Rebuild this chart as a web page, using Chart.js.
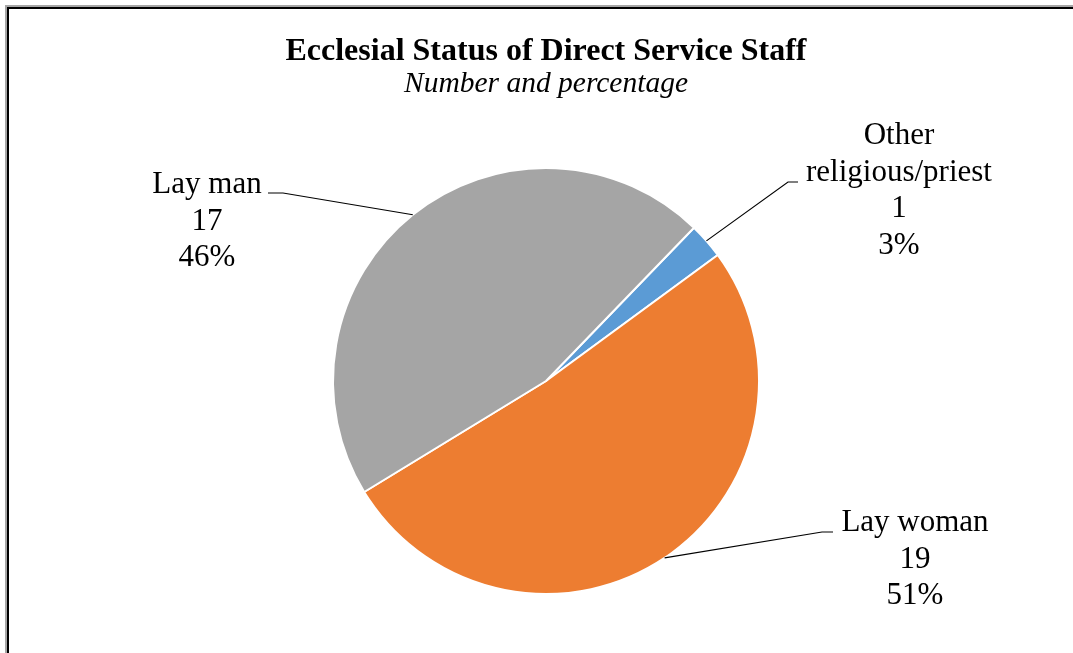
<!DOCTYPE html>
<html>
<head>
<meta charset="utf-8">
<script src="https://cdn.jsdelivr.net/npm/chart.js@4.4.1/dist/chart.umd.min.js"></script>
<style>
    html, body { margin: 0; padding: 0; background: #fff; overflow: hidden; }
    #wrap { position: relative; width: 1073px; height: 653px; }
    #frameOuter { position: absolute; left: 5px; top: 5px; width: 2000px; height: 2000px;
        border-left: 2px solid #a6a6a6; border-top: 2px solid #a6a6a6; }
    #frameInner { position: absolute; left: 0; top: 0; width: 2000px; height: 2000px;
        border-left: 2px solid #000; border-top: 2px solid #000; }
    canvas { position: absolute; left: 0; top: 0; }
</style>
</head>
<body>
<div id="wrap">
    <div id="frameOuter"><div id="frameInner"></div></div>
    <canvas id="chart" width="1073" height="653"></canvas>
</div>
<script>
// Dữ liệu biểu đồ
const categories = ['Other religious/priest', 'Lay woman', 'Lay man'];
const labelLines = [['Other', 'religious/priest'], ['Lay woman'], ['Lay man']];
const counts = [1, 19, 17];
const sliceColors = ['#5b9bd5', '#ed7d31', '#a5a5a5'];

// Vị trí nhãn (so với tâm hình tròn): tâm chữ, điểm gấp, điểm cuối đường dẫn
const labelPlace = [
    { tx: 353, ty: -245, ex: 242, ey: -199, fx: 252, fy: -199 },
    { tx: 369, ty: 142, ex: 276, ey: 151, fx: 287, fy: 151 },
    { tx: -339, ty: -196, ex: -263, ey: -188, fx: -278, fy: -188 }
];

const total = counts.reduce((a, b) => a + b, 0);

// Vẽ nhãn dữ liệu với đường dẫn
const pieLabels = {
    id: 'pieLabels',
    afterDatasetsDraw(chart) {
        const c = chart.ctx;
        const meta = chart.getDatasetMeta(0);
        meta.data.forEach((arc, i) => {
            const p = arc.getProps(['x', 'y', 'startAngle', 'endAngle', 'outerRadius'], true);
            const mid = (p.startAngle + p.endAngle) / 2;
            const ax = p.x + Math.cos(mid) * p.outerRadius;
            const ay = p.y + Math.sin(mid) * p.outerRadius;
            const pl = labelPlace[i];

            c.save();
            c.strokeStyle = '#000';
            c.lineWidth = 1.2;
            c.beginPath();
            c.moveTo(ax, ay);
            c.lineTo(p.x + pl.ex, p.y + pl.ey);
            c.lineTo(p.x + pl.fx, p.y + pl.fy);
            c.stroke();

            const lines = labelLines[i].concat([String(counts[i]), Math.round(counts[i] / total * 100) + '%']);
            c.fillStyle = '#000';
            c.font = '31px "Liberation Serif", "Times New Roman", serif';
            c.textAlign = 'center';
            c.textBaseline = 'middle';
            lines.forEach((t, k) => {
                c.fillText(t, p.x + pl.tx, p.y + pl.ty + k * 36.5);
            });
            c.restore();
        });
    }
};

const ctx = document.getElementById('chart').getContext('2d');
const chart = new Chart(ctx, {
    type: 'pie',
    data: {
        labels: categories,
        datasets: [{
            data: counts,
            backgroundColor: sliceColors,
            borderColor: '#ffffff',
            borderWidth: 2
        }]
    },
    options: {
        responsive: false,
        animation: false,
        devicePixelRatio: 1,
        rotation: 44,
        radius: 213,
        layout: { padding: { left: 19, right: 0, top: 0, bottom: 58 } },
        plugins: {
            legend: { display: false },
            tooltip: { enabled: false },
            title: {
                display: true,
                text: 'Ecclesial Status of Direct Service Staff',
                color: '#000',
                font: { family: '"Liberation Serif", "Times New Roman", serif', size: 32, weight: 'bold', lineHeight: 1 },
                padding: { top: 36, bottom: 0 }
            },
            subtitle: {
                display: true,
                text: 'Number and percentage',
                color: '#000',
                font: { family: '"Liberation Serif", "Times New Roman", serif', size: 29.5, style: 'italic', lineHeight: 1 },
                padding: { top: 1.25, bottom: 68.25 }
            }
        }
    },
    plugins: [pieLabels]
});
</script>
</body>
</html>
